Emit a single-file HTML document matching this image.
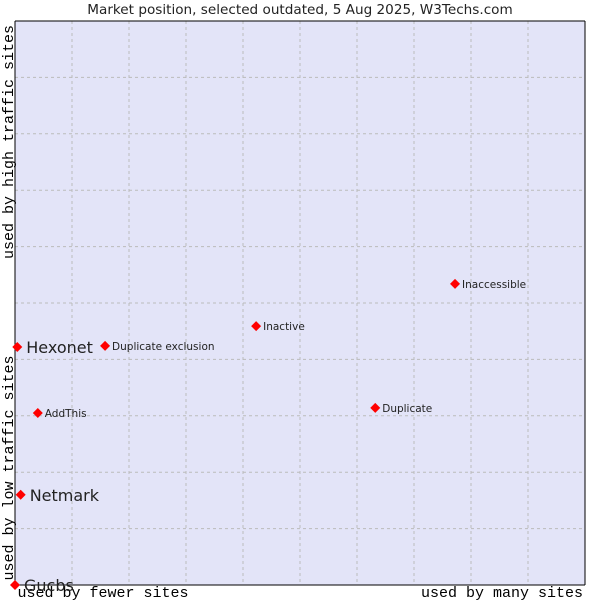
<!DOCTYPE html>
<html><head><meta charset="utf-8"><style>
body{margin:0;background:#fff;}
svg{display:block;}
</style></head><body>
<svg width="600" height="600">
<text x="300" y="14" text-anchor="middle" font-family="DejaVu Sans, sans-serif" font-size="13.6" fill="#222">Market position, selected outdated, 5 Aug 2025, W3Techs.com</text>
<rect x="15" y="21" width="570" height="564" fill="#e3e4f8"/>
<g id="grid"></g>
<line x1="15" y1="21" x2="15" y2="585" stroke="#000"/>
<line x1="15" y1="585" x2="585" y2="585" stroke="#000"/>
<line x1="15" y1="21" x2="585" y2="21" stroke="#000"/>
<line x1="585" y1="21" x2="585" y2="585" stroke="#000"/>
<text x="103" y="597" text-anchor="middle" font-family="Liberation Mono, monospace" font-size="15">used by fewer sites</text>
<text x="502" y="597" text-anchor="middle" font-family="Liberation Mono, monospace" font-size="15">used by many sites</text>
<text transform="translate(13,468) rotate(-90)" text-anchor="middle" font-family="Liberation Mono, monospace" font-size="15">used by low traffic sites</text>
<text transform="translate(13,142) rotate(-90)" text-anchor="middle" font-family="Liberation Mono, monospace" font-size="15">used by high traffic sites</text>
<g id="points"></g>
</svg>
<script>
const names=["Gucbs","Netmark","AddThis","Hexonet","Duplicate exclusion","Inactive","Duplicate","Inaccessible"];
const xValues=[0,1,4,0.4,15.8,42.3,63.2,77.2];
const yValues=[0,16,30.5,42.2,42.4,45.9,31.4,53.4];
const bigLabels=[true,true,false,true,false,false,false,false];
const X0=15,W=570,Y0=585,H=564;
function sx(v){return X0+v/100*W;}
function sy(v){return Y0-v/100*H;}
const ns="http://www.w3.org/2000/svg";
const grid=document.getElementById('grid');
for(let i=1;i<10;i++){
  const lv=document.createElementNS(ns,'line');
  
  
  lv.setAttribute('x1',sx(i*10));lv.setAttribute('x2',sx(i*10));lv.setAttribute('y1',21);lv.setAttribute('y2',585);
  lv.setAttribute('stroke','#bbb');lv.setAttribute('stroke-dasharray','3,3');
  grid.appendChild(lv);
  const lh=document.createElementNS(ns,'line');
  
  
  lh.setAttribute('y1',sy(i*10));lh.setAttribute('y2',sy(i*10));lh.setAttribute('x1',15);lh.setAttribute('x2',585);
  lh.setAttribute('stroke','#bbb');lh.setAttribute('stroke-dasharray','3,3');
  grid.appendChild(lh);
}
const pts=document.getElementById('points');
names.forEach((n,i)=>{
  const x=sx(xValues[i]),y=sy(yValues[i]);
  const p=document.createElementNS(ns,'path');
  
  
  p.setAttribute('d',`M${x-5},${y} L${x},${y-5} L${x+5},${y} L${x},${y+5} Z`);
  p.setAttribute('fill','#ff0000');
  pts.appendChild(p);
  const t=document.createElementNS(ns,'text');
  
  
  const big=bigLabels[i];
  t.setAttribute('x',x+(big?9:7));
  t.setAttribute('y',y+(big?6:4));
  t.setAttribute('font-family','DejaVu Sans, sans-serif');
  t.setAttribute('font-size',big?16:10.5);
  t.setAttribute('fill','#222');
  t.textContent=n;
  pts.appendChild(t);
});
</script>
</body></html>
